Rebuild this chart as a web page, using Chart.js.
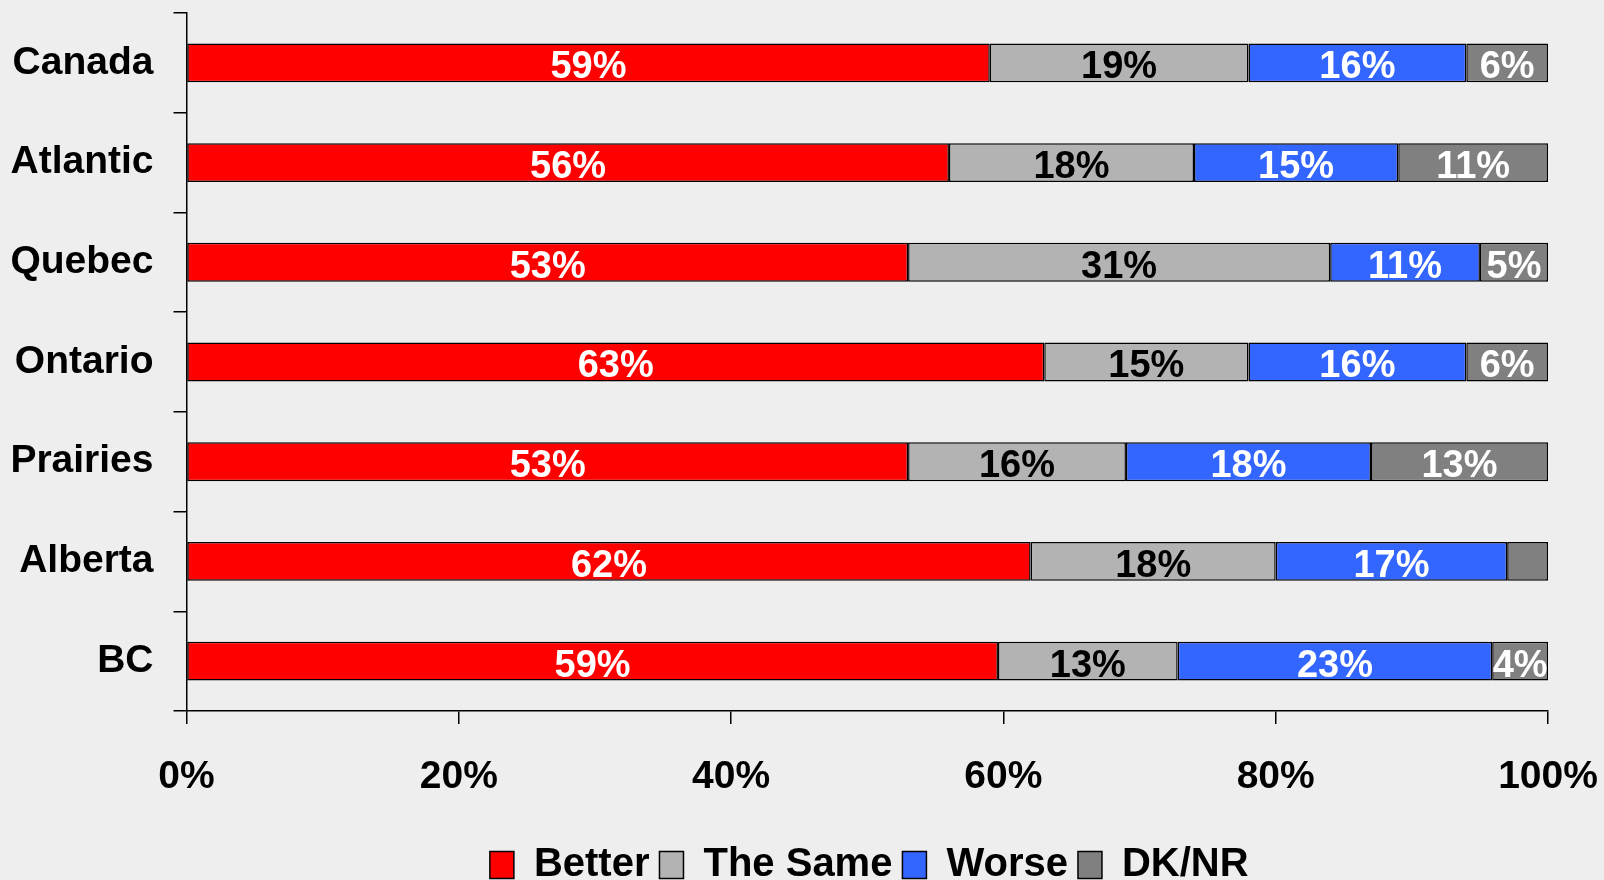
<!DOCTYPE html>
<html>
<head>
<meta charset="utf-8">
<script src="https://cdn.jsdelivr.net/npm/chart.js@4"></script>
<style>
  html, body { margin: 0; padding: 0; background: #EEEEEE; }
  #wrap { width: 1604px; height: 880px; }
</style>
</head>
<body>
<div id="wrap"><canvas id="c" width="1604" height="880"></canvas></div>
<script>
const categories = ['Canada', 'Atlantic', 'Quebec', 'Ontario', 'Prairies', 'Alberta', 'BC'];
const seriesNames = ['Better', 'The Same', 'Worse', 'DK/NR'];
const better = [59, 56, 53, 63, 53, 62, 59.6];
const same   = [19, 18, 31, 15, 16, 18, 13.2];
const worse  = [16, 15, 11, 16, 18, 17, 23.1];
const dknr   = [6, 11, 5, 6, 13, 3, 4.1];
const xTickValues = [0, 20, 40, 60, 80, 100];

const colors = ['#FF0000', '#B3B3B3', '#3366FF', '#808080'];
const labelColors = ['#FFFFFF', '#000000', '#FFFFFF', '#FFFFFF'];
const FONT = '"Liberation Sans", Arial, sans-serif';

const valueLabels = {
  id: 'valueLabels',
  afterDatasetsDraw(chart) {
    const ctx = chart.ctx;
    ctx.save();
    ctx.font = 'bold 38px ' + FONT;
    ctx.textAlign = 'center';
    ctx.textBaseline = 'middle';
    chart.data.datasets.forEach((ds, di) => {
      const meta = chart.getDatasetMeta(di);
      meta.data.forEach((bar, i) => {
        const v = ds.data[i];
        const txt = Math.floor(v) + '%';
        const w = Math.abs(bar.x - bar.base);
        const tw = ctx.measureText(txt).width;
        if (w < tw - 6) return;
        ctx.fillStyle = labelColors[di];
        ctx.fillText(txt, (bar.x + bar.base) / 2, bar.y + 5);
      });
    });
    ctx.restore();
  }
};

const legendPlacer = {
  id: 'legendPlacer',
  afterLayout(chart) {
    const lg = chart.legend;
    const ca = chart.chartArea;
    if (!lg || !ca) return;
    const dx = (ca.left + ca.right) / 2 - (lg.left + lg.right) / 2 + 2;
    lg.left += dx; lg.right += dx;
    const dy = 15;
    lg.top += dy; lg.bottom += dy;
  }
};

new Chart(document.getElementById('c'), {
  type: 'bar',
  data: {
    labels: categories,
    datasets: [better, same, worse, dknr].map((d, k) => ({
      label: seriesNames[k],
      data: d,
      backgroundColor: colors[k],
      borderColor: '#000000',
      borderWidth: 1.5,
      borderSkipped: false,
      barPercentage: 0.39,
      categoryPercentage: 1.0
    }))
  },
  options: {
    indexAxis: 'y',
    responsive: false,
    animation: false,
    layout: { padding: { left: 10.5, right: 56, top: 13, bottom: 0 } },
    scales: {
      x: {
        stacked: true,
        min: 0,
        max: 100,
        afterBuildTicks(scale) { scale.ticks = xTickValues.map(v => ({ value: v })); },
        afterFit(scale) { scale.height = 109; scale.paddingLeft = 0; scale.paddingRight = 0; },
        border: { display: true, color: '#000000', width: 1.5 },
        grid: { display: true, drawOnChartArea: false, drawTicks: true, tickLength: 13, color: '#000000', lineWidth: 1.5 },
        ticks: {
          color: '#000000',
          font: { family: FONT, size: 39, weight: 'bold' },
          padding: 30,
          maxRotation: 0,
          callback: v => v + '%'
        }
      },
      y: {
        stacked: true,
        afterFit(scale) { scale.width = 176; scale.paddingTop = 0; scale.paddingBottom = 0; },
        border: { display: true, color: '#000000', width: 1.5 },
        grid: { display: true, drawOnChartArea: false, drawTicks: true, tickLength: 13, color: '#000000', lineWidth: 1.5, offset: true },
        ticks: {
          color: '#000000',
          font: { family: FONT, size: 39, weight: 'bold' },
          padding: 20
        }
      }
    },
    plugins: {
      legend: {
        display: true,
        position: 'bottom',
        labels: {
          color: '#000000',
          font: { family: FONT, size: 40, weight: 'bold' },
          boxWidth: 24,
          boxHeight: 27,
          padding: 10
        }
      },
      tooltip: { enabled: false }
    }
  },
  plugins: [valueLabels, legendPlacer]
});
</script>
</body>
</html>
